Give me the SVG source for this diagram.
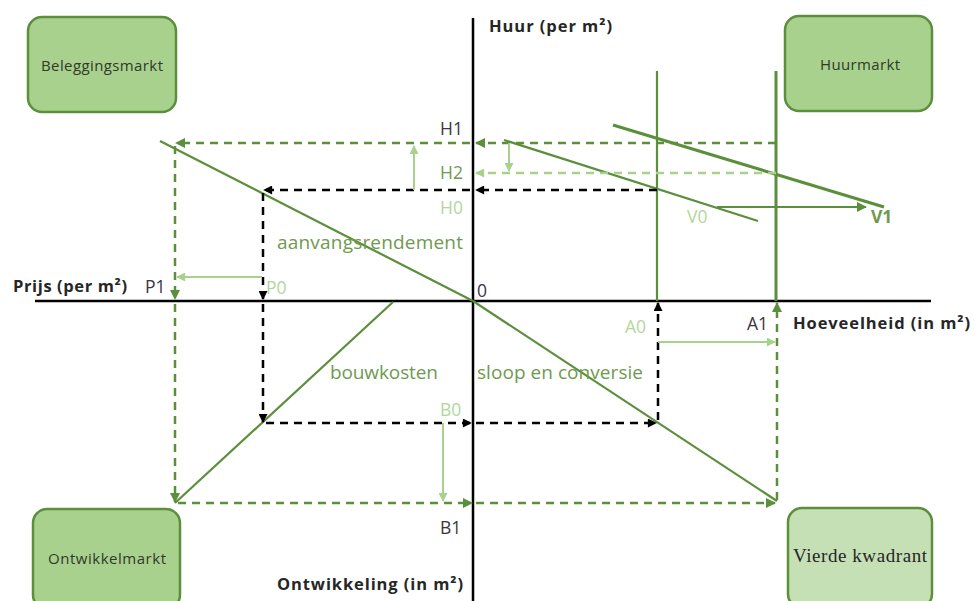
<svg xmlns="http://www.w3.org/2000/svg" width="975" height="601" viewBox="0 0 975 601">
<style>
.box{fill:#a9d18e;stroke:#5b8f3b;stroke-width:2.5}
.box2{fill:#c5e0b4;stroke:#5b8f3b;stroke-width:2.5}
.bt{font-family:"Open Sans","Liberation Sans",sans-serif;font-size:15px;fill:#2f3a28;text-anchor:middle}
.ax{stroke:#000;stroke-width:2.5;fill:none}
.lab{font-family:"Open Sans","Liberation Sans",sans-serif;font-weight:bold;font-size:16.5px;fill:#262626}
.t{font-family:"Open Sans","Liberation Sans",sans-serif;font-size:17.5px}
.big{font-size:19px}
.dk{fill:#3d3442}
.gr{fill:#6f9a4f}
.lg{fill:#b3d69b}
.kd{stroke:#000;stroke-width:2.5;stroke-dasharray:8 6;fill:none}
.gd{stroke:#5b8f3b;stroke-width:2.5;stroke-dasharray:8 6;fill:none}
.ld{stroke:#a9d18e;stroke-width:2.5;stroke-dasharray:8 6;fill:none}
.gs{stroke:#5b8f3b;stroke-width:2.2;fill:none}
.gt{stroke:#5b8f3b;stroke-width:3;fill:none}
.ls{stroke:#a9d18e;stroke-width:2;fill:none}
</style>
<defs>
<marker id="ak" viewBox="0 0 10 10" refX="9" refY="5" markerWidth="10" markerHeight="9" markerUnits="userSpaceOnUse" orient="auto"><path d="M0,0 L10,5 L0,10 z" fill="#000"/></marker>
<marker id="ag" viewBox="0 0 10 10" refX="9" refY="5" markerWidth="11" markerHeight="10" markerUnits="userSpaceOnUse" orient="auto"><path d="M0,0 L10,5 L0,10 z" fill="#5b8f3b"/></marker>
<marker id="al" viewBox="0 0 10 10" refX="9" refY="5" markerWidth="10" markerHeight="9" markerUnits="userSpaceOnUse" orient="auto"><path d="M0,0 L10,5 L0,10 z" fill="#a9d18e"/></marker>
</defs>
<rect width="975" height="601" fill="#fff"/>

<g id="beleggingsmarkt"><rect class="box" x="28" y="17" width="148" height="95" rx="14"/><text class="bt" x="102" y="71" textLength="122">Beleggingsmarkt</text></g>
<g id="huurmarkt"><rect class="box" x="785" y="16" width="147" height="95" rx="14"/><text class="bt" x="860" y="70" textLength="80">Huurmarkt</text></g>
<g id="ontwikkelmarkt"><rect class="box" x="33" y="509" width="147" height="100" rx="14"/><text class="bt" x="107" y="564" textLength="118">Ontwikkelmarkt</text></g>
<g id="vierde-kwadrant"><rect class="box2" x="788" y="508" width="144" height="100" rx="14"/><text x="860" y="562" text-anchor="middle" textLength="134" style="font-family:'Liberation Serif','DejaVu Serif',serif;font-size:19px;fill:#262626">Vierde kwadrant</text></g>

<g id="axes">
<line class="ax" x1="35" y1="301" x2="931" y2="301"/>
<line class="ax" x1="473" y1="18" x2="473" y2="601"/>
</g>

<g id="connectors">
<line class="gs" x1="160" y1="141" x2="473" y2="301"/>
<line class="gs" x1="473" y1="301" x2="777" y2="501"/>
<line class="gs" x1="393" y1="302" x2="175" y2="503"/>
<line class="gs" x1="657" y1="71" x2="657" y2="301"/>
<line class="gt" x1="776" y1="71" x2="776" y2="301"/>
<line class="gs" x1="504" y1="140" x2="758" y2="221"/>
<line class="gt" x1="613" y1="125" x2="884" y2="207"/>
<line class="gs" x1="717" y1="207" x2="866" y2="207" marker-end="url(#ag)"/>

<line class="gd" x1="776" y1="143" x2="476" y2="143" marker-end="url(#ag)"/>
<line class="gd" x1="470" y1="143" x2="176" y2="143" marker-end="url(#ag)"/>
<line class="gd" x1="175" y1="146" x2="175" y2="299" marker-end="url(#ag)"/>
<line class="gd" x1="175" y1="304" x2="175" y2="502" marker-end="url(#ag)"/>
<line class="gd" x1="178" y1="503" x2="472" y2="503" marker-end="url(#ag)"/>
<line class="gd" x1="476" y1="503" x2="775" y2="503" marker-end="url(#ag)"/>
<line class="gd" x1="777" y1="500" x2="777" y2="303" marker-end="url(#ag)"/>

<line class="kd" x1="657" y1="190" x2="476" y2="190" marker-end="url(#ak)"/>
<line class="kd" x1="470" y1="190" x2="264" y2="190" marker-end="url(#ak)"/>
<line class="kd" x1="263" y1="193" x2="263" y2="299" marker-end="url(#ak)"/>
<line class="kd" x1="263" y1="304" x2="263" y2="422" marker-end="url(#ak)"/>
<line class="kd" x1="266" y1="423" x2="471" y2="423" marker-end="url(#ak)"/>
<line class="kd" x1="476" y1="423" x2="656" y2="423" marker-end="url(#ak)"/>
<line class="kd" x1="658" y1="420" x2="658" y2="303" marker-end="url(#ak)"/>

<line class="ld" x1="776" y1="173" x2="476" y2="173" marker-end="url(#al)"/>
<line class="ls" x1="414" y1="190" x2="414" y2="146" marker-end="url(#al)"/>
<line class="ls" x1="509" y1="143" x2="509" y2="171" marker-end="url(#al)"/>
<line class="ls" x1="262" y1="277" x2="177" y2="277" marker-end="url(#al)"/>
<line class="ls" x1="443" y1="423" x2="443" y2="501" marker-end="url(#al)"/>
<line class="ls" x1="658" y1="342" x2="775" y2="342" marker-end="url(#al)"/>
</g>

<g id="labels">
<text class="lab" x="489" y="32" textLength="123">Huur (per m²)</text>
<text class="lab" x="13" y="292" textLength="114">Prijs (per m²)</text>
<text class="lab" x="793" y="329" textLength="177">Hoeveelheid (in m²)</text>
<text class="lab" x="277" y="590" textLength="186">Ontwikkeling (in m²)</text>
<text class="t dk" x="440" y="135">H1</text>
<text class="t gr" x="440" y="179">H2</text>
<text class="t lg" x="440" y="214">H0</text>
<text class="t big gr" x="277" y="249" textLength="186">aanvangsrendement</text>
<text class="t dk" x="145" y="293">P1</text>
<text class="t lg" x="266" y="294">P0</text>
<text class="t dk" x="477" y="297">0</text>
<text class="t lg" x="625" y="333">A0</text>
<text class="t dk" x="747" y="330">A1</text>
<text class="t big gr" x="330" y="379" textLength="108">bouwkosten</text>
<text class="t big gr" x="477" y="379" textLength="166">sloop en conversie</text>
<text class="t lg" x="440" y="416">B0</text>
<text class="t dk" x="440" y="534">B1</text>
<text class="t lg" x="687" y="223">V0</text>
<text class="t gr" x="871" y="223" style="font-weight:bold">V1</text>
</g>
</svg>
